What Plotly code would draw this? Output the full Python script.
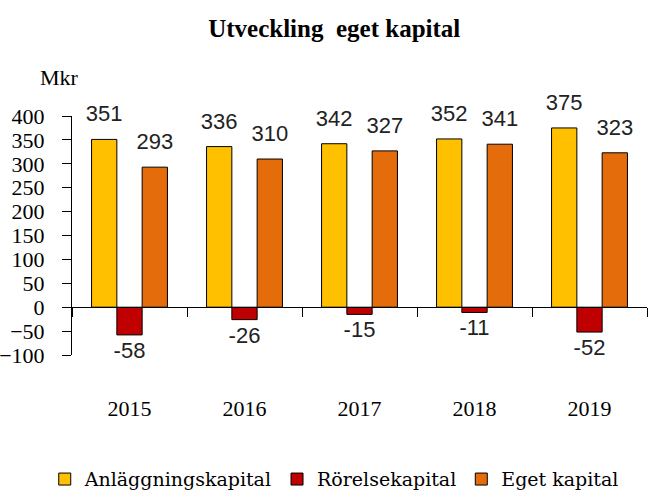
import plotly.graph_objects as go

years = ["2015", "2016", "2017", "2018", "2019"]
anlaggningskapital = [351, 336, 342, 352, 375]
rorelsekapital = [-58, -26, -15, -11, -52]
eget_kapital = [293, 310, 327, 341, 323]

series_names = ["Anläggningskapital", "Rörelsekapital", "Eget kapital"]
series_colors = ["#FFC000", "#C00000", "#E46C0A"]

SERIF = "Liberation Serif"
SANS = "Liberation Sans"


def labels(vals):
    out = []
    for v in vals:
        t = f"<span style='font-size:22px'>{v}</span>"
        if v > 0:
            t += "<br>\u00a0"
        out.append(t)
    return out


fig = go.Figure()
for name, vals, col in zip(series_names, [anlaggningskapital, rorelsekapital, eget_kapital], series_colors):
    fig.add_trace(go.Bar(
        x=years, y=vals, name=name,
        marker=dict(color=col, line=dict(color="black", width=1)),
        text=labels(vals), textposition="outside", constraintext="none",
        textfont=dict(family=SANS, size=10, color="#222"),
        cliponaxis=False,
    ))

fig.update_layout(
    template="none",
    width=649, height=492,
    margin=dict(l=72, r=2, t=116, b=137, autoexpand=False),
    paper_bgcolor="white", plot_bgcolor="white",
    barmode="group", bargap=0.34, bargroupgap=0,
    title=dict(text="<b>Utveckling  eget kapital</b>", xref="container", x=0.515, xanchor="center",
               yref="container", y=0.943, yanchor="middle",
               font=dict(family=SERIF, size=25, color="black")),
    font=dict(family=SERIF, color="black"),
    showlegend=True,
    legend=dict(orientation="h", xref="container", x=0.515, xanchor="center",
                yref="container", y=0.026, yanchor="middle",
                font=dict(family="DejaVu Serif", size=19, color="black"), itemwidth=30,
                bgcolor="rgba(0,0,0,0)"),
    xaxis=dict(type="category", anchor="free", position=0.2, showline=True, linecolor="black",
               linewidth=1, ticks="outside", tickson="boundaries", ticklen=9, tickcolor="black",
               showgrid=False, zeroline=False, ticklabelstandoff=81, automargin=False,
               tickfont=dict(family=SERIF, size=22, color="black")),
    yaxis=dict(range=[-100, 400], dtick=50, tick0=0, showline=True, linecolor="black", linewidth=1,
               ticks="outside", ticklen=9, tickcolor="black", showgrid=False, zeroline=False,
               ticklabelstandoff=13, automargin=False,
               tickfont=dict(family=SERIF, size=22, color="black")),
    annotations=[dict(text="Mkr", xref="paper", yref="paper", x=-0.0226, y=1.163,
                      xanchor="center", yanchor="middle", showarrow=False,
                      font=dict(family=SERIF, size=22, color="black"))],
)

fig.write_html("out.html", config={"displayModeBar": False},
               post_script="document.body.style.margin='0';")
